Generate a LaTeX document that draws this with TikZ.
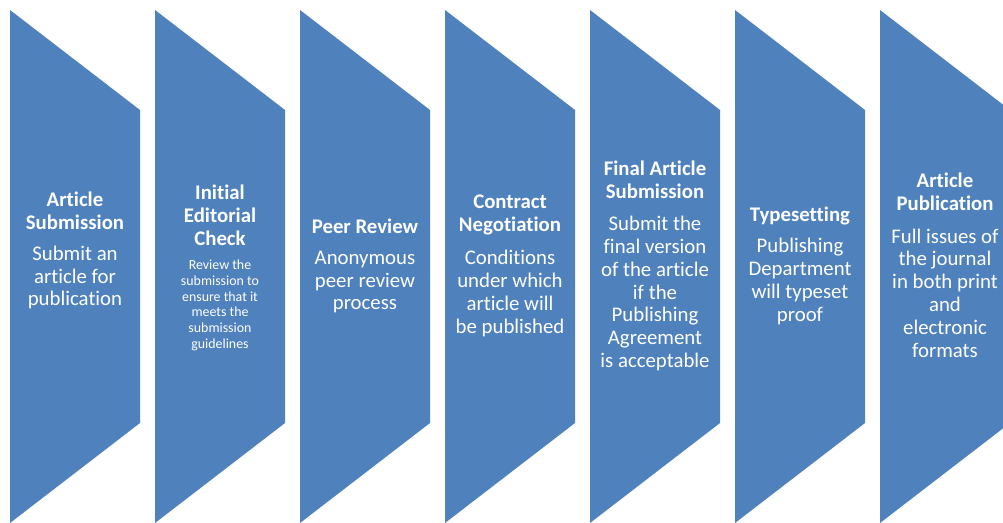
\documentclass[tikz,border=0pt]{standalone}
\usepackage{fontspec}
\setmainfont[Ligatures=NoCommon]{Carlito}
\usetikzlibrary{positioning}

\definecolor{stageblue}{HTML}{4F81BD}

\begin{document}
\begin{tikzpicture}
    [
        x=1pt, y=-1pt,
        on grid,
        stage/.style={fill=stageblue},
        stagetitle/.style={text=white, align=center, inner sep=0pt,
            font=\bfseries\fontsize{20.8}{23}\selectfont},
        stagetext/.style={text=white, align=center, inner sep=0pt,
            font=\fontsize{20.8}{22.8}\selectfont},
        smalltext/.style={text=white, align=center, inner sep=0pt,
            font=\fontsize{13.9}{15.7}\selectfont}
    ]
        \useasboundingbox (0,0) rectangle (1003,522);
        \clip (0,0) rectangle (1003,522);

        % =========================================================================
        % STAGES
        % =========================================================================
        \foreach \k in {0,...,6}
            \fill [stage] ({10+145*\k},10) -- ++(130,100) -- ++(0,313)
                -- ++(-130,100) -- cycle;

        % =========================================================================
        % LABELS
        % =========================================================================
        % --- Stage 1 ---
        \node [stagetitle] (title1) at (75,210.5) {Article\\Submission};
        \node [stagetext, below=67pt of title1] (text1) {Submit an\\article for\\publication};
        % --- Stage 2 ---
        \node [stagetitle] (title2) at (220,215) {Initial\\Editorial\\Check};
        \node [smalltext, below=90.5pt of title2] (text2)
            {Review the\\submission to\\ensure that it\\meets the\\submission\\guidelines};
        % --- Stage 3 ---
        \node [stagetitle] (title3) at (365,226) {Peer Review};
        \node [stagetext, below=56pt of title3] (text3) {Anonymous\\peer review\\process};
        % --- Stage 4 ---
        \node [stagetitle] (title4) at (510,215) {Contract\\Negotiation};
        \node [stagetext, below=78.5pt of title4] (text4)
            {Conditions\\under which\\article will\\be published};
        % --- Stage 5 ---
        \node [stagetitle] (title5) at (655,180) {Final Article\\Submission};
        \node [stagetext, below=113.5pt of title5] (text5)
            {Submit the\\final version\\of the article\\if the\\Publishing\\Agreement\\is acceptable};
        % --- Stage 6 ---
        \node [stagetitle] (title6) at (800,216) {Typesetting};
        \node [stagetext, below=65.5pt of title6] (text6)
            {Publishing\\Department\\will typeset\\proof};
        % --- Stage 7 ---
        \node [stagetitle] (title7) at (945,191.5) {Article\\Publication};
        \node [stagetext, below=101.5pt of title7] (text7)
            {Full issues of\\the journal\\in both print\\and\\electronic\\formats};

    \end{tikzpicture}
\end{document}
